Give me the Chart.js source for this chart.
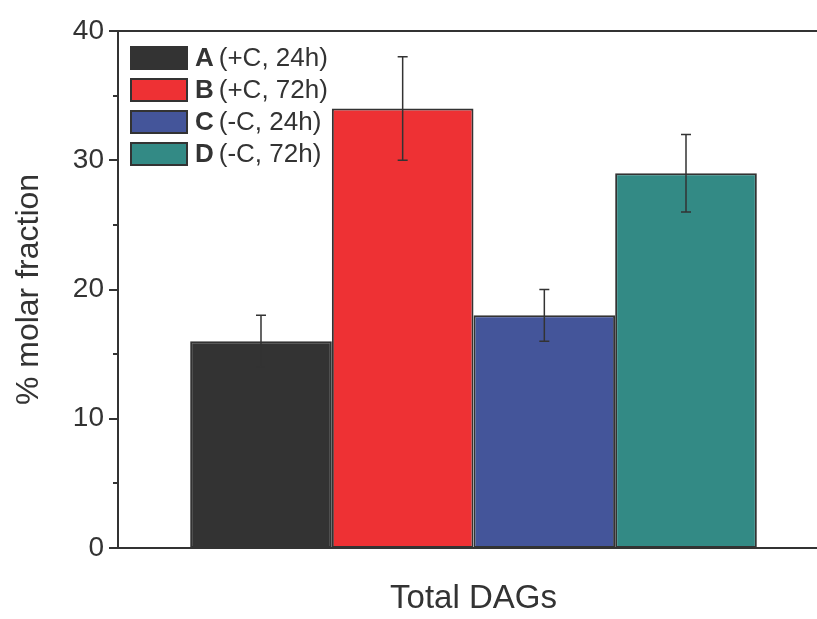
<!DOCTYPE html>
<html>
<head>
<meta charset="utf-8">
<script src="https://cdn.jsdelivr.net/npm/chart.js@4"></script>
<style>
  body { margin: 0; overflow: hidden; background: #fff; }
  canvas { display: block; }
</style>
</head>
<body>
<canvas id="myChart" width="829" height="619"></canvas>
<script>
const categories = ['Total DAGs'];
const seriesKeys = ['A', 'B', 'C', 'D'];
const seriesConditions = ['(+C, 24h)', '(+C, 72h)', '(-C, 24h)', '(-C, 72h)'];
const seriesValues = [16, 34, 18, 29];
const seriesErrors = [2, 4, 2, 3];
const seriesColors = ['#333333', '#ee3134', '#44559a', '#338a85'];
const yTicks = [0, 10, 20, 30, 40];

const INK = '#333333';

// error bars, minor ticks, top frame and legend
const extras = {
    id: 'extras',
    afterDatasetsDraw(chart) {
        const ctx = chart.ctx;
        const y = chart.scales.y;
        const area = chart.chartArea;
        ctx.save();

        // error bars
        ctx.strokeStyle = INK;
        ctx.lineWidth = 1.5;
        chart.data.datasets.forEach((ds, i) => {
            const bar = chart.getDatasetMeta(i).data[0];
            const v = seriesValues[i], e = seriesErrors[i];
            const yTop = y.getPixelForValue(v + e);
            const yBot = y.getPixelForValue(v - e);
            ctx.beginPath();
            ctx.moveTo(bar.x, yTop); ctx.lineTo(bar.x, yBot);
            ctx.moveTo(bar.x - 5, yTop); ctx.lineTo(bar.x + 5, yTop);
            ctx.moveTo(bar.x - 5, yBot); ctx.lineTo(bar.x + 5, yBot);
            ctx.stroke();
        });

        // y ticks, major and minor
        ctx.lineWidth = 2;
        for (let v = 0; v <= 40; v += 5) {
            const py = Math.round(y.getPixelForValue(v));
            const len = v % 10 === 0 ? 9 : 5;
            ctx.beginPath();
            ctx.moveTo(area.left - len, py);
            ctx.lineTo(area.left, py);
            ctx.stroke();
        }

        // top frame line
        ctx.beginPath();
        ctx.moveTo(area.left - 1, area.top);
        ctx.lineTo(area.right, area.top);
        ctx.stroke();

        // legend
        let ly = 47;
        seriesKeys.forEach((k, i) => {
            ctx.fillStyle = seriesColors[i];
            ctx.fillRect(131, ly, 56, 22);
            ctx.strokeStyle = INK;
            ctx.lineWidth = 2;
            ctx.strokeRect(131, ly, 56, 22);
            ctx.fillStyle = INK;
            ctx.textBaseline = 'middle';
            ctx.textAlign = 'left';
            ctx.font = 'bold 26px "Liberation Sans", Arial, sans-serif';
            ctx.fillText(k, 195, ly + 12);
            const w = ctx.measureText(k).width;
            ctx.font = '26px "Liberation Sans", Arial, sans-serif';
            ctx.fillText(seriesConditions[i], 195 + w + 5, ly + 12);
            ly += 32;
        });

        ctx.restore();
    }
};

new Chart(document.getElementById('myChart'), {
    type: 'bar',
    data: {
        labels: categories,
        datasets: seriesKeys.map((k, i) => ({
            label: k + ' ' + seriesConditions[i],
            data: [seriesValues[i]],
            backgroundColor: seriesColors[i],
            borderColor: INK,
            borderWidth: 2,
            borderSkipped: false
        }))
    },
    options: {
        responsive: false,
        animation: false,
        layout: { padding: { top: 31, right: 0, left: 0, bottom: 0 } },
        datasets: {
            bar: { categoryPercentage: 0.797, barPercentage: 1 }
        },
        plugins: {
            legend: { display: false },
            tooltip: { enabled: false }
        },
        scales: {
            x: {
                grid: { display: false, drawTicks: false },
                border: { display: true, color: INK, width: 2 },
                ticks: { display: false },
                title: {
                    display: true,
                    text: 'Total DAGs',
                    color: INK,
                    font: { family: '"Liberation Sans", Arial, sans-serif', size: 33 },
                    padding: { top: 0, bottom: 0 }
                },
                afterFit(scale) { scale.height = 71; }
            },
            y: {
                min: 0,
                max: 40,
                afterBuildTicks(scale) {
                    scale.ticks = yTicks.map(v => ({ value: v }));
                },
                grid: { display: false, drawTicks: false },
                border: { display: true, color: INK, width: 2 },
                ticks: {
                    color: INK,
                    padding: 14,
                    font: { family: '"Liberation Sans", Arial, sans-serif', size: 28 }
                },
                title: {
                    display: true,
                    text: '% molar fraction',
                    color: INK,
                    font: { family: '"Liberation Sans", Arial, sans-serif', size: 32 },
                    padding: { top: 10, bottom: 0 }
                },
                afterFit(scale) { scale.width = 118; }
            }
        }
    },
    plugins: [extras]
});
</script>
</body>
</html>
